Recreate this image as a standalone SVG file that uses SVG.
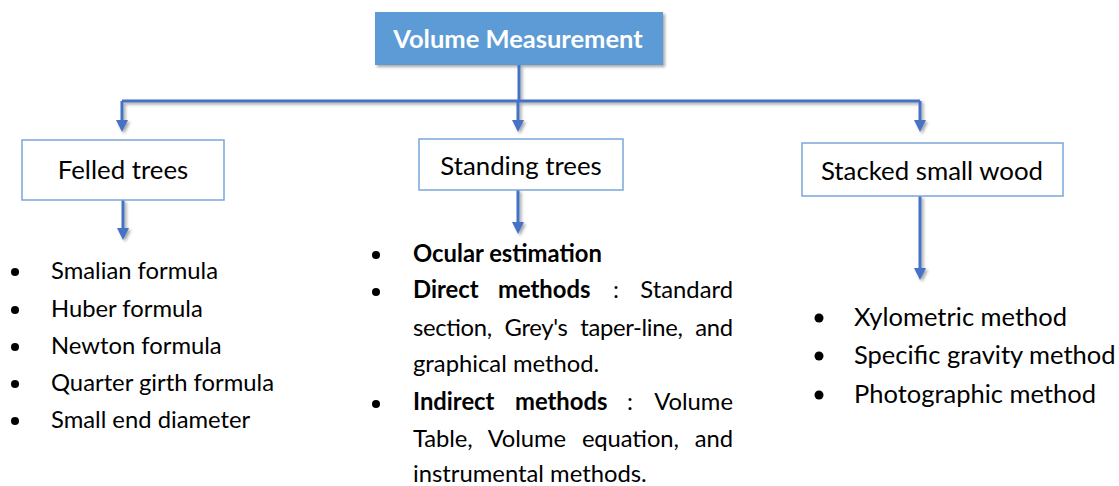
<svg xmlns="http://www.w3.org/2000/svg" width="1119" height="486" viewBox="0 0 1119 486">
<style>
  .t{font-family:Lato,"Noto Sans",sans-serif;fill:#000}
  .box{fill:#fff;stroke:#7aa6da;stroke-width:1.5}
  .con{stroke:#4472c4;stroke-width:3;fill:none}
  .b{font-weight:bold}
</style>
<defs>
  <filter id="sh" x="-20%" y="-20%" width="140%" height="160%">
    <feDropShadow dx="2" dy="2" stdDeviation="1.5" flood-color="#000" flood-opacity="0.35"/>
  </filter>
  <marker id="ah" markerWidth="4" markerHeight="4" refX="2" refY="2" orient="auto" markerUnits="strokeWidth">
    <path d="M0,0 L4,2 L0,4 z" fill="#4472c4"/>
  </marker>
</defs>

<g id="title">
  <rect x="375" y="12" width="288" height="53" fill="#5b9bd5" filter="url(#sh)"/>
  <text x="518" y="48" text-anchor="middle" class="b" style="font-family:Lato,'Noto Sans',sans-serif;font-size:25.5px;fill:#fff">Volume Measurement</text>
</g>

<g id="connectors" filter="url(#sh)">
  <path class="con" d="M519,65 V101"/>
  <path class="con" d="M122,101 H920"/>
  <path class="con" d="M122,101 V126" marker-end="url(#ah)"/>
  <path class="con" d="M518,101 V126" marker-end="url(#ah)"/>
  <path class="con" d="M920,101 V126" marker-end="url(#ah)"/>
  <path class="con" d="M123,200 V234" marker-end="url(#ah)"/>
  <path class="con" d="M518,190 V228" marker-end="url(#ah)"/>
  <path class="con" d="M920,196 V274" marker-end="url(#ah)"/>
</g>

<g id="felled">
  <rect class="box" x="22" y="140" width="202" height="60"/>
  <text class="t" x="123" y="179" text-anchor="middle" font-size="25.8">Felled trees</text>
</g>

<g id="standing">
  <rect class="box" x="419" y="139" width="204" height="51"/>
  <text class="t" x="521" y="175" text-anchor="middle" font-size="25.8">Standing trees</text>
</g>

<g id="stacked">
  <rect class="box" x="802" y="143" width="261" height="53"/>
  <text class="t" x="932" y="180" text-anchor="middle" font-size="25.8">Stacked small wood</text>
</g>

<g id="felled-list" class="t" font-size="23.8">
  <circle cx="15" cy="272" r="4"/><text x="51" y="279">Smalian formula</text>
  <circle cx="15" cy="310" r="4"/><text x="51" y="317">Huber formula</text>
  <circle cx="15" cy="347" r="4"/><text x="51" y="354">Newton formula</text>
  <circle cx="15" cy="384" r="4"/><text x="51" y="391">Quarter girth formula</text>
  <circle cx="15" cy="421" r="4"/><text x="51" y="428">Small end diameter</text>
</g>

<g id="standing-list" class="t" font-size="23.8">
  <circle cx="376" cy="255" r="4"/><text x="413" y="262" class="b">Ocular estimation</text>
  <circle cx="376" cy="292" r="4"/>
  <text x="413" y="298" class="b">Direct</text>
  <text x="498" y="298" class="b">methods</text>
  <text x="613" y="298">:</text>
  <text x="733" y="298" text-anchor="end">Standard</text>
  <text x="413" y="336" word-spacing="7" textLength="320" lengthAdjust="spacing">section, Grey's taper-line, and</text>
  <text x="413" y="372">graphical method.</text>
  <circle cx="376" cy="404" r="4"/>
  <text x="413" y="410" class="b">Indirect</text>
  <text x="515" y="410" class="b">methods</text>
  <text x="627" y="410">:</text>
  <text x="733" y="410" text-anchor="end">Volume</text>
  <text x="413" y="447" word-spacing="10" textLength="320" lengthAdjust="spacing">Table, Volume equation, and</text>
  <text x="413" y="482">instrumental methods.</text>
</g>

<g id="stacked-list" class="t" font-size="25.5">
  <circle cx="819" cy="318" r="4.5"/><text x="854" y="326">Xylometric method</text>
  <circle cx="819" cy="356" r="4.5"/><text x="854" y="364">Specific gravity method</text>
  <circle cx="819" cy="395" r="4.5"/><text x="854" y="403">Photographic method</text>
</g>
</svg>
